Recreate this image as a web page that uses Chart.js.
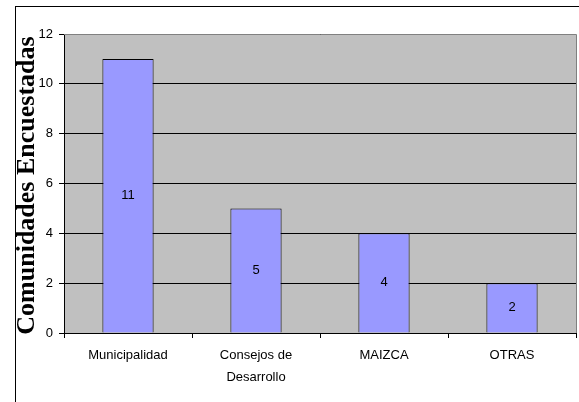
<!DOCTYPE html>
<html>
<head>
<meta charset="utf-8">
<script src="https://cdn.jsdelivr.net/npm/chart.js@4"></script>
<style>
html,body{margin:0;padding:0;background:#fff;}
#wrap{width:579px;height:402px;position:relative;}
</style>
</head>
<body>
<div id="wrap"><canvas id="c" width="579" height="402"></canvas></div>
<script>
const categories = [['Municipalidad'], ['Consejos de', 'Desarrollo'], ['MAIZCA'], ['OTRAS']];
const values = [11, 5, 4, 2];
const yTicks = [0, 2, 4, 6, 8, 10, 12];
const yTitle = 'Comunidades Encuestadas';

const frame = {
  id: 'frame',
  beforeDraw(chart) {
    const ctx = chart.ctx, a = chart.chartArea;
    ctx.save();
    ctx.fillStyle = '#fff';
    ctx.fillRect(0, 0, chart.width, chart.height);
    ctx.strokeStyle = '#000';
    ctx.lineWidth = 1;
    ctx.strokeRect(15.5, 6.5, 570, 420);
    ctx.fillStyle = '#c0c0c0';
    ctx.fillRect(a.left, a.top, a.right - a.left, a.bottom - a.top);
    ctx.restore();
  },
  afterDatasetsDraw(chart) {
    const ctx = chart.ctx, a = chart.chartArea;
    ctx.save();
    ctx.strokeStyle = '#808080';
    ctx.lineWidth = 1;
    ctx.beginPath();
    ctx.moveTo(a.left, a.top + 0.5);
    ctx.lineTo(a.right + 0.5, a.top + 0.5);
    ctx.lineTo(a.right + 0.5, a.bottom);
    ctx.stroke();
    // value labels
    const meta = chart.getDatasetMeta(0);
    ctx.fillStyle = '#000';
    ctx.font = '13px "Liberation Sans", Arial, sans-serif';
    ctx.textAlign = 'center';
    ctx.textBaseline = 'middle';
    meta.data.forEach((bar, i) => {
      const p = bar.getProps(['x', 'y', 'base'], true);
      ctx.fillText(String(values[i]), p.x, (p.y + p.base) / 2);
    });
    // y title
    ctx.translate(27, (a.top + a.bottom) / 2 + 2);
    ctx.rotate(-Math.PI / 2);
    ctx.font = 'bold 26px "Liberation Serif", "Times New Roman", serif';
    ctx.fillStyle = '#000';
    ctx.fillText(yTitle, 0, 0);
    ctx.restore();
  }
};

new Chart(document.getElementById('c'), {
  type: 'bar',
  data: {
    labels: categories,
    datasets: [{
      data: values,
      backgroundColor: '#9999ff',
      borderColor: '#000',
      borderWidth: 1,
      barPercentage: 0.4,
      categoryPercentage: 1.0
    }]
  },
  plugins: [frame],
  options: {
    responsive: false,
    animation: false,
    devicePixelRatio: 1,
    layout: { padding: { top: 34, right: 3, left: 0, bottom: 0 } },
    plugins: { legend: { display: false }, tooltip: { enabled: false }, title: { display: false } },
    scales: {
      x: {
        offset: true,
        grid: { display: true, offset: true, drawOnChartArea: false, color: '#000', tickLength: 5, tickColor: '#000' },
        border: { display: true, color: '#000' },
        ticks: { color: '#000', font: { family: '"Liberation Sans", Arial, sans-serif', size: 13, lineHeight: 1.65 }, padding: 7, maxRotation: 0, autoSkip: false },
        afterFit(s) { s.height = 69; }
      },
      y: {
        min: 0, max: 12,
        afterBuildTicks(s) { s.ticks = yTicks.map(v => ({ value: v })); },
        grid: { color: '#000', tickLength: 5, tickColor: '#000', drawTicks: true },
        border: { display: true, color: '#000' },
        ticks: { color: '#000', font: { family: '"Liberation Sans", Arial, sans-serif', size: 13 }, padding: 6 },
        afterFit(s) { s.width = 64; }
      }
    }
  }
});
</script>
</body>
</html>
